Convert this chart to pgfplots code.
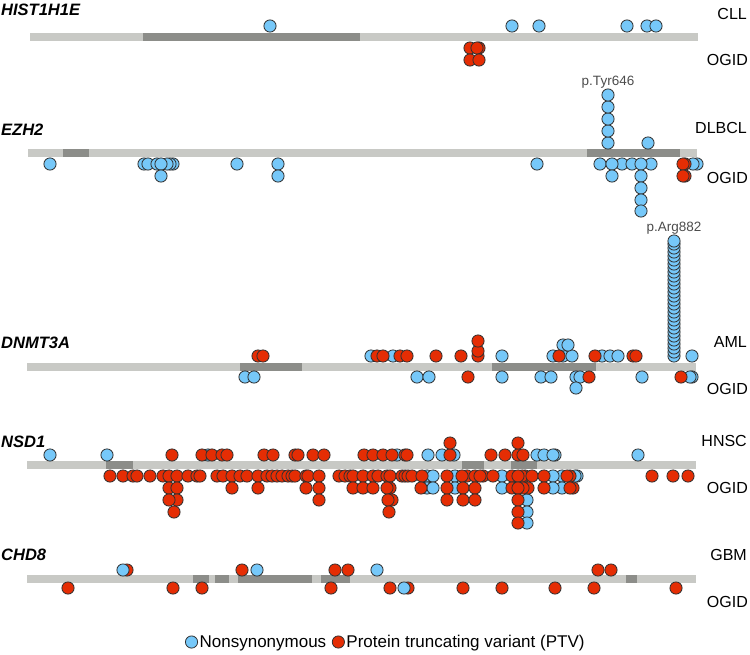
\documentclass[border=0pt]{standalone}
\usepackage{pgfplots}
\pgfplotsset{compat=1.18}
\usepackage{fontspec}
\setmainfont{Liberation Sans}
\definecolor{nsblue}{HTML}{76C8F9}
\definecolor{ptvred}{HTML}{E52D04}
\definecolor{edgec}{HTML}{303030}
\definecolor{barlight}{HTML}{C8C9C5}
\definecolor{bardark}{HTML}{8C8D89}
\pgfplotsset{
  nsm/.style={only marks, mark=*, mark size=6.1pt, mark options={fill=nsblue, draw=edgec, line width=0.8pt}},
  ptv/.style={only marks, mark=*, mark size=6.1pt, mark options={fill=ptvred, draw=edgec, line width=0.8pt}},
  pbar/.style={no markers, line width=8pt, color=barlight, line cap=butt},
  dom/.style={no markers, line width=8pt, color=bardark, line cap=butt},
}
\newcommand{\gname}[1]{\fontsize{16.5}{19}\selectfont\bfseries\itshape #1}
\newcommand{\lab}[1]{\fontsize{16}{19}\selectfont #1}
\begin{document}
\begin{tikzpicture}
\begin{axis}[width=750pt, height=654pt, scale only axis, xmin=0, xmax=750, ymin=0, ymax=654,
  y dir=reverse, hide axis, clip=false,
  legend style={at={(axis cs:386,642)}, anchor=center, draw=none, fill=none, legend columns=2,
    font=\fontsize{17}{19}\selectfont, inner sep=0pt,
    /tikz/every even column/.append style={column sep=4pt}},
  legend image code/.code={\draw[#1] plot coordinates {(0.22cm,0cm)};},
]
\addlegendimage{nsm}
\addlegendentry{Nonsynonymous}
\addlegendimage{ptv}
\addlegendentry{Protein truncating variant (PTV)}
% ---------------- HIST1H1E
\addplot[pbar] coordinates {(30,37) (698,37)};
\addplot[dom] coordinates {(143,37) (360,37)};
\addplot[nsm] coordinates {(270,26) (512,26) (539,26) (627,26) (647,26) (656,26)};
\addplot[ptv] coordinates {(470,48) (479,48) (477,48) (470,60) (479,60)};
% ---------------- EZH2
\addplot[pbar] coordinates {(28,153) (697,153)};
\addplot[dom] coordinates {(63,153) (89,153)};
\addplot[dom] coordinates {(587,153) (680,153)};
\addplot[nsm] coordinates {(608,143) (608,131) (608,119) (608,107) (608,95) (648,143)};
\addplot[nsm] coordinates {(50,164) (144,164) (148,164) (173,164) (170,164) (167,164) (157,164) (161,164)
 (237,164) (278,164) (537,164) (697,164) (693,164) (600,164) (622,164) (632,164) (612,164) (651,164) (641,164)
 (161,176) (278,176) (612,176) (641,176) (641,188) (641,200) (641,211)};
\addplot[ptv] coordinates {(685,164) (683,164) (685,176) (683,176)};
% ---------------- DNMT3A
\addplot[pbar] coordinates {(27,367) (696,367)};
\addplot[dom] coordinates {(240,367) (302,367)};
\addplot[dom] coordinates {(492,367) (596,367)};
\addplot[nsm] coordinates {(371,356) (393,356) (502,356) (553,356) (563,356) (572,356) (602,356) (610,356) (618,356) (692,356)
 (563,345) (568,345)};
\addplot[ptv] coordinates {(258,356) (263,356) (377,356) (383,356) (400,356) (407,356) (436,356) (461,356)
 (478,356) (478,351) (478,341) (559,356) (595,356) (633,356) (636,356)};
\addplot[nsm] coordinates {(674,356) (674,352) (674,348) (674,344) (674,340) (674,336) (674,332) (674,328) (674,324) (674,320)
 (674,316) (674,312) (674,308) (674,304) (674,300) (674,296) (674,292) (674,288) (674,284) (674,280)
 (674,276) (674,272) (674,268) (674,264) (674,260) (674,256) (674,252) (674,248) (674,244) (674,241)};
\addplot[nsm] coordinates {(245,377) (254,377) (417,377) (429,377) (502,377) (541,377) (551,377) (576,377) (580,377)
 (642,377) (692,377) (690,377) (576,388)};
\addplot[ptv] coordinates {(468,377) (589,377) (681,377)};
% ---------------- NSD1
\addplot[pbar] coordinates {(27,465) (696,465)};
\addplot[dom] coordinates {(106,465) (133,465)};
\addplot[dom] coordinates {(462,465) (484,465)};
\addplot[dom] coordinates {(511,465) (537,465)};
\addplot[nsm] coordinates {(50,455) (107,455) (208,455) (397,455) (428,455) (442,455) (454,455)
 (537,455) (544,455) (555,455) (553,455) (638,455)};
\addplot[ptv] coordinates {(172,455) (202,455) (212,455) (222,455) (227,455) (264,455) (273,455) (295,455) (298,455)
 (313,455) (324,455) (364,455) (373,455) (383,455) (392,455) (405,455) (407,455) (450,455) (491,455) (505,455)
 (518,455) (523,455) (450,443) (518,443)};
\addplot[nsm] coordinates {(427,476) (433,476) (455,476) (502,476) (577,476) (575,476) (562,476) (553,476)
 (427,488) (433,488) (455,488) (502,488) (562,488) (553,488)
 (527,500) (527,512) (527,523)};
\addplot[ptv] coordinates {(110,476) (123,476) (133,476) (137,476) (150,476) (163,476) (169,476) (177,476) (188,476)
 (197,476) (200,476) (217,476) (223,476) (232,476) (240,476) (247,476) (258,476) (267,476) (272,476) (277,476)
 (282,476) (288,476) (292,476) (295,476) (306,476) (308,476) (319,476) (339,476) (345,476) (350,476) (353,476)
 (363,476) (373,476) (378,476) (387,476) (390,476) (402,476) (405,476) (408,476) (412,476) (422,476) (447,476)
 (467,476) (462,476) (475,476) (483,476) (480,476) (493,476) (512,476) (525,476) (522,476) (518,476) (532,476)
 (544,476) (570,476) (567,476) (652,476) (673,476) (688,476)
 (169,488) (177,488) (232,488) (258,488) (306,488) (319,488) (353,488) (363,488) (373,488) (390,488) (387,488)
 (421,488) (447,488) (463,488) (475,488) (512,488) (528,488) (523,488) (518,488) (544,488) (573,488) (570,488)
 (177,500) (169,500) (319,500) (392,500) (388,500) (447,500) (463,500) (475,500) (518,500)
 (174,512) (389,512) (518,512)
 (518,523)};
% ---------------- CHD8
\addplot[pbar] coordinates {(27,579) (696,579)};
\addplot[dom] coordinates {(193,579) (209,579)};
\addplot[dom] coordinates {(215,579) (229,579)};
\addplot[dom] coordinates {(238,579) (312,579)};
\addplot[dom] coordinates {(321,579) (350,579)};
\addplot[dom] coordinates {(626,579) (637,579)};
\addplot[ptv] coordinates {(127,570) (242,570) (335,570) (348,570) (598,570) (611,570)};
\addplot[nsm] coordinates {(123,570) (257,570) (377,570)};
\addplot[ptv] coordinates {(68,588) (173,588) (202,588) (331,588) (390,588) (408,588) (463,588) (502,588)
 (555,588) (594,588) (676,588)};
\addplot[nsm] coordinates {(404,588)};
% ---------------- labels
\node[anchor=west, inner sep=0pt] at (axis cs:1,10) {\gname{HIST1H1E}};
\node[anchor=west, inner sep=0pt] at (axis cs:1,130) {\gname{EZH2}};
\node[anchor=west, inner sep=0pt] at (axis cs:1,343) {\gname{DNMT3A}};
\node[anchor=west, inner sep=0pt] at (axis cs:1,442) {\gname{NSD1}};
\node[anchor=west, inner sep=0pt] at (axis cs:1,555) {\gname{CHD8}};
\node[anchor=east, inner sep=0pt] at (axis cs:747,14) {\lab{CLL}};
\node[anchor=east, inner sep=0pt] at (axis cs:748,60) {\lab{OGID}};
\node[anchor=east, inner sep=0pt] at (axis cs:747,128) {\lab{DLBCL}};
\node[anchor=east, inner sep=0pt] at (axis cs:748,178) {\lab{OGID}};
\node[anchor=east, inner sep=0pt] at (axis cs:747,342) {\lab{AML}};
\node[anchor=east, inner sep=0pt] at (axis cs:748,389) {\lab{OGID}};
\node[anchor=east, inner sep=0pt] at (axis cs:747,441) {\lab{HNSC}};
\node[anchor=east, inner sep=0pt] at (axis cs:748,488) {\lab{OGID}};
\node[anchor=east, inner sep=0pt] at (axis cs:747,555) {\lab{GBM}};
\node[anchor=east, inner sep=0pt] at (axis cs:748,602) {\lab{OGID}};
\node[anchor=base, inner sep=0pt, text=black!70] at (axis cs:608,85) {\fontsize{13.5}{15}\selectfont p.Tyr646};
\node[anchor=base, inner sep=0pt, text=black!70] at (axis cs:674,231) {\fontsize{13.5}{15}\selectfont p.Arg882};
\end{axis}
\pgfresetboundingbox
\useasboundingbox (0,0) rectangle (750pt,654pt);
\end{tikzpicture}
\end{document}
